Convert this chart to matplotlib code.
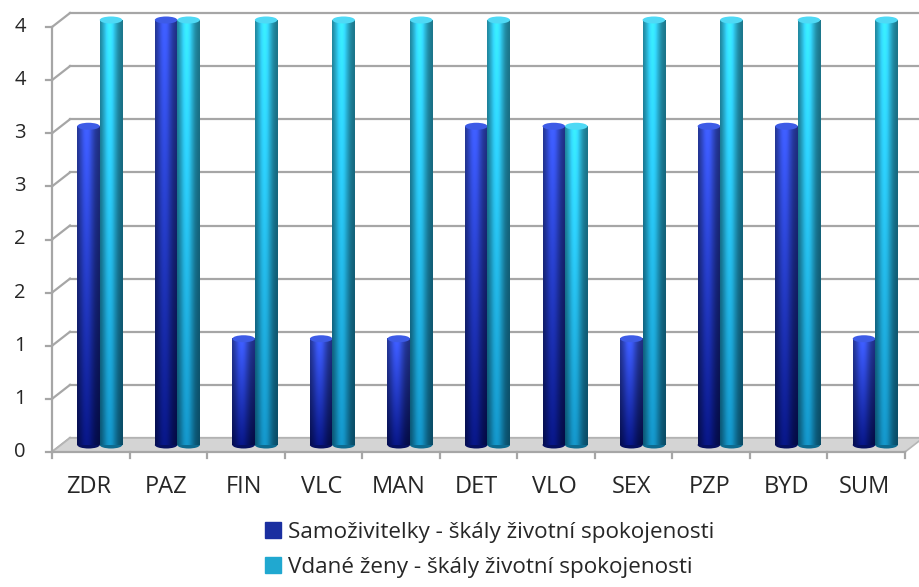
import matplotlib
matplotlib.use("Agg")
import matplotlib.pyplot as plt
from matplotlib.patches import Ellipse, Polygon
from matplotlib.lines import Line2D
import numpy as np

# data
categories = ['ZDR', 'PAZ', 'FIN', 'VLC', 'MAN', 'DET', 'VLO', 'SEX', 'PZP', 'BYD', 'SUM']
samozivitelky = [3, 4, 1, 1, 1, 3, 3, 1, 3, 3, 1]
vdane = [4, 4, 4, 4, 4, 4, 3, 4, 4, 4, 4]
series_names = ['Samoživitelky - škály životní spokojenosti',
                'Vdané ženy - škály životní spokojenosti']
yticks = [0, 0.5, 1, 1.5, 2, 2.5, 3, 3.5, 4]

plt.rcParams['font.family'] = ['Open Sans', 'DejaVu Sans']

W, H = 920, 587
fig = plt.figure(figsize=(W / 100, H / 100), dpi=100)
# front plane of the pseudo 3d box, in pixels
left, right, bottom, top = 52, 905, 452, 27
ax = fig.add_axes([left / W, 1 - bottom / H, (right - left) / W, (bottom - top) / H])
n = len(categories)
ax.set_xlim(-0.5, n - 0.5)
ax.set_ylim(0, 4)
ax.axis('off')

px_x = (right - left) / n          # pixels per category
px_y = (bottom - top) / 4.0        # pixels per unit
ox, oy = 18 / px_x, 14 / px_y      # depth offset of back wall in data units

grid_c = '#a6a6a6'
txt_c = '#262626'
# back wall gridlines and left wall diagonals
for v in yticks:
    ax.plot([-0.5 + ox, n - 0.5 + ox + 1], [v + oy, v + oy], color=grid_c, lw=1.6,
            clip_on=False, zorder=1)
    ax.plot([-0.5, -0.5 + ox], [v, v + oy], color=grid_c, lw=1.6, clip_on=False, zorder=1)
    ax.plot([-0.5 - 6 / px_x, -0.5], [v, v], color=grid_c, lw=1.6, clip_on=False, zorder=1)
    ax.text(-0.5 - 26 / px_x, v, str(int(v + 0.5)), ha='right', va='center',
            fontsize=14.5, color=txt_c)

# floor
floor = Polygon([[-0.5, 0], [n - 0.5, 0], [n - 0.5 + ox, oy], [-0.5 + ox, oy]],
                closed=True, facecolor='#d4d4d4', edgecolor='#b5b5b5', lw=1.2,
                clip_on=False, zorder=2)
ax.add_patch(floor)
ax.plot([-0.5, -0.5], [0, 4], color=grid_c, lw=1.6, clip_on=False, zorder=2)
ax.plot([-0.5, n - 0.5], [0, 0], color=grid_c, lw=1.6, clip_on=False, zorder=3)
for k in range(n + 1):
    ax.plot([k - 0.5, k - 0.5], [0, -6 / px_y], color=grid_c, lw=1.6, clip_on=False, zorder=3)
for i, c in enumerate(categories):
    ax.text(i - 2 / px_x, -35 / px_y, c, ha='center', va='center', fontsize=17,
            color=txt_c)

# cylinder bars
bw = 0.29
styles = [
    {'bottom': np.array([0.03, 0.08, 0.47]), 'top': np.array([0.22, 0.33, 0.90]),
     'cap': '#3d5be6', 'legend': '#1a2fa0'},
    {'bottom': np.array([0.07, 0.52, 0.70]), 'top': np.array([0.20, 0.82, 0.96]),
     'cap': '#4fd9f5', 'legend': '#20a8d0'},
]
u = np.linspace(0, 1, 40)
shade = 0.55 + 0.6 * np.exp(-((u - 0.42) / 0.32) ** 2)
t = np.linspace(1, 0, 60)[:, None, None]


def cylinder(x0, val, st, z):
    img = st['bottom'] + (st['top'] - st['bottom']) * t
    img = np.clip(img * shade[None, :, None], 0, 1)
    b, tp = oy / 2, val + oy / 2
    eh = 7 / px_y
    ax.add_patch(Ellipse((x0 + bw / 2, b), bw, eh, facecolor=st['bottom'] * 0.8,
                         edgecolor='none', clip_on=False, zorder=z))
    im = ax.imshow(img, extent=[x0, x0 + bw, b, tp], aspect='auto', zorder=z,
                   interpolation='bilinear')
    im.set_clip_on(False)
    ax.add_patch(Ellipse((x0 + bw / 2, tp), bw, eh, facecolor=st['cap'],
                         edgecolor='none', clip_on=False, zorder=z + 0.1))


for i in range(n):
    cx = i + ox / 2
    cylinder(cx - bw, samozivitelky[i], styles[0], 4 + i)
    cylinder(cx, vdane[i], styles[1], 4.5 + i)

ax.set_xlim(-0.5, n - 0.5)
ax.set_ylim(0, 4)

handles = [Line2D([], [], marker='s', ls='', markersize=11, color=st['legend'])
           for st in styles]
fig.legend(handles, series_names, loc='upper center', bbox_to_anchor=(489 / W, 1 - 502 / H),
           frameon=False, fontsize=16.2, handlelength=0.8, handletextpad=0.25,
           labelspacing=0.6, labelcolor=txt_c)

fig.savefig('out.png', dpi=100)
